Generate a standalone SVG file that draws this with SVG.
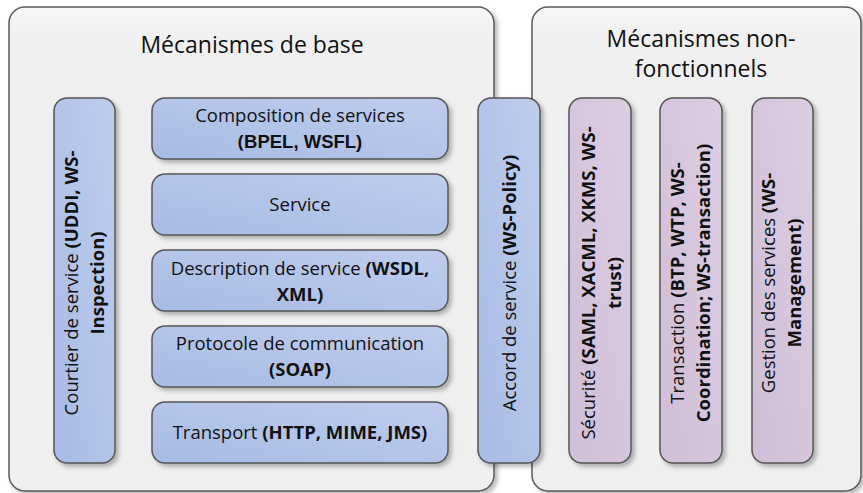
<svg xmlns="http://www.w3.org/2000/svg" width="863" height="493" viewBox="0 0 863 493">
<defs>
<filter id="sh" x="-20%" y="-20%" width="140%" height="140%">
<feDropShadow dx="3" dy="3" stdDeviation="2" flood-color="#000" flood-opacity="0.28"/>
</filter>
<linearGradient id="gOuter" x1="0" y1="0" x2="0" y2="1">
<stop offset="0" stop-color="#f7f7f7"/>
<stop offset="0.06" stop-color="#f0f0f0"/>
<stop offset="1" stop-color="#efefef"/>
</linearGradient>
<linearGradient id="gBlue" x1="0" y1="1" x2="1" y2="0">
<stop offset="0" stop-color="#a8bbe5"/>
<stop offset="1" stop-color="#bfcdee"/>
</linearGradient>
<linearGradient id="gPurple" x1="0" y1="1" x2="1" y2="0">
<stop offset="0" stop-color="#d0bdd7"/>
<stop offset="1" stop-color="#ddcde2"/>
</linearGradient>
</defs>
<style>
.outer{fill:url(#gOuter);stroke:#5a5a5a;stroke-width:1.5;filter:url(#sh)}
.blue{fill:url(#gBlue);stroke:#555;stroke-width:1.5;filter:url(#sh)}
.purple{fill:url(#gPurple);stroke:#555;stroke-width:1.5;filter:url(#sh)}
text{font-family:"Open Sans","Liberation Sans",sans-serif;fill:#111;text-anchor:middle}
.title{font-size:23px}
.lbl{font-size:18.5px}
.b{font-weight:bold}
.ar{font-family:"Liberation Sans",Arial,sans-serif;font-weight:bold}
</style>
<rect width="863" height="493" fill="#ffffff"/>

<g id="base">
<rect class="outer" x="9" y="7" width="485" height="484" rx="16"/>
<text class="title" x="252" y="53">Mécanismes de base</text>
</g>

<g id="nonfonc">
<rect class="outer" x="532" y="7" width="329" height="484" rx="16"/>
<text class="title" x="701" y="47">Mécanismes non-</text>
<text class="title" x="701" y="77">fonctionnels</text>
</g>

<g id="courtier">
<rect class="blue" x="54" y="98" width="61" height="365" rx="13"/>
<text class="lbl" transform="translate(78,283) rotate(-90)"><tspan x="0" y="0">Courtier de service <tspan class="b">(UDDI, WS-</tspan></tspan><tspan x="0" y="26" class="b">Inspection)</tspan></text>
</g>

<g id="composition">
<rect class="blue" x="152" y="98" width="296" height="61" rx="13"/>
<text class="lbl" x="300" y="122">Composition de services</text>
<text class="lbl" x="300" y="148"><tspan class="b">(</tspan><tspan class="ar">BPEL, WSFL)</tspan></text>
</g>

<g id="service">
<rect class="blue" x="152" y="174" width="296" height="61" rx="13"/>
<text class="lbl" x="300" y="211">Service</text>
</g>

<g id="description">
<rect class="blue" x="152" y="250" width="296" height="61" rx="13"/>
<text class="lbl" x="300" y="275">Description de service <tspan class="b">(WSDL,</tspan></text>
<text class="lbl b" x="300" y="301">XML)</text>
</g>

<g id="protocole">
<rect class="blue" x="152" y="326" width="296" height="61" rx="13"/>
<text class="lbl" x="300" y="350">Protocole de communication</text>
<text class="lbl b" x="300" y="376">(SOAP)</text>
</g>

<g id="transport">
<rect class="blue" x="152" y="402" width="296" height="61" rx="13"/>
<text class="lbl" x="300" y="439">Transport <tspan class="b">(HTTP, MIME, JMS)</tspan></text>
</g>

<g id="accord">
<rect class="blue" x="478" y="98" width="62" height="365" rx="13"/>
<text class="lbl" transform="translate(515.5,283) rotate(-90)">Accord de service <tspan class="b">(WS-Policy)</tspan></text>
</g>

<g id="securite">
<rect class="purple" x="569" y="98" width="62" height="365" rx="13"/>
<text class="lbl" transform="translate(595,283) rotate(-90)"><tspan x="0" y="0">Sécurité <tspan class="b">(SAML, XACML, XKMS, WS-</tspan></tspan><tspan x="0" y="26" class="b">trust)</tspan></text>
</g>

<g id="transaction">
<rect class="purple" x="660" y="98" width="62" height="365" rx="13"/>
<text class="lbl" transform="translate(684,283) rotate(-90)"><tspan x="0" y="0">Transaction <tspan class="b">(BTP, WTP, WS-</tspan></tspan><tspan x="0" y="26" class="b">Coordination; WS-transaction)</tspan></text>
</g>

<g id="gestion">
<rect class="purple" x="752" y="98" width="61" height="365" rx="13"/>
<text class="lbl" transform="translate(775,283) rotate(-90)"><tspan x="0" y="0">Gestion des services <tspan class="b">(WS-</tspan></tspan><tspan x="0" y="26" class="b">Management)</tspan></text>
</g>

<g id="connectors"></g>
</svg>
